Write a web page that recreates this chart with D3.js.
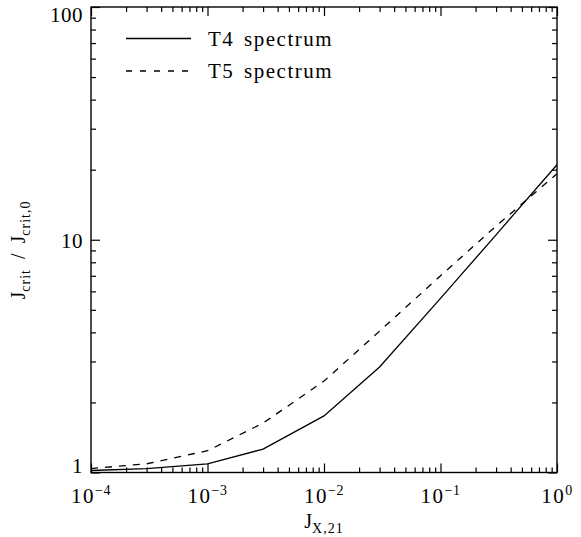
<!DOCTYPE html>
<html>
<head>
<meta charset="utf-8">
<script src="https://cdn.jsdelivr.net/npm/d3@7"></script>
<style>
  body { margin: 0; background: #fff; }
  svg text { font-family: "Liberation Serif", "DejaVu Serif", "Noto Serif", serif; }
</style>
</head>
<body>
<svg id="chart" width="581" height="537"></svg>
<script>
// values
const jx = [1e-4, 3e-4, 1e-3, 3e-3, 1e-2, 3e-2, 1e-1, 3e-1, 1];
const jcritT4 = [1.02, 1.04, 1.09, 1.26, 1.75, 2.84, 5.6, 10.5, 21.0];
const jcritT5 = [1.04, 1.09, 1.24, 1.63, 2.47, 4.05, 7.0, 11.45, 19.2];
const seriesNames = ["T4 spectrum", "T5 spectrum"];
const xExponents = [-4, -3, -2, -1, 0];
const yTickValues = [1, 10, 100];

const plotLeft = 91, plotRight = 557, plotTop = 7, plotBottom = 472.5;
const majorLen = 9, minorLen = 5;
const serif = "Liberation Serif, DejaVu Serif, serif";

const svg = d3.select("#chart").attr("font-family", serif);

const x = d3.scaleLog().domain([1e-4, 1]).range([plotLeft, plotRight]);
const y = d3.scaleLog().domain([1, 100]).range([plotBottom, plotTop]);

const isPow10 = v => Math.abs(Math.log10(v) - Math.round(Math.log10(v))) < 1e-9;
const xMinor = x.ticks().filter(v => !isPow10(v));
const yMinor = y.ticks().filter(v => !isPow10(v));
const xMajor = xExponents.map(e => Math.pow(10, e));

function tickAxis(axisFn, scale, values, len, translate) {
    svg.append("g")
        .attr("transform", translate)
        .call(axisFn(scale).tickValues(values).tickSize(-len).tickSizeOuter(0).tickFormat(""))
        .call(g => g.select(".domain").remove())
        .call(g => g.selectAll(".tick line").attr("stroke", "#000").attr("stroke-width", 1.2));
}

// ticks on all four sides, pointing in
tickAxis(d3.axisBottom, x, xMinor, minorLen, `translate(0,${plotBottom})`);
tickAxis(d3.axisBottom, x, xMajor, majorLen, `translate(0,${plotBottom})`);
tickAxis(d3.axisTop, x, xMinor, minorLen, `translate(0,${plotTop})`);
tickAxis(d3.axisTop, x, xMajor, majorLen, `translate(0,${plotTop})`);
tickAxis(d3.axisLeft, y, yMinor, minorLen, `translate(${plotLeft},0)`);
tickAxis(d3.axisLeft, y, yTickValues, majorLen, `translate(${plotLeft},0)`);
tickAxis(d3.axisRight, y, yMinor, minorLen, `translate(${plotRight},0)`);
tickAxis(d3.axisRight, y, yTickValues, majorLen, `translate(${plotRight},0)`);

svg.append("rect")
    .attr("x", plotLeft).attr("y", plotTop)
    .attr("width", plotRight - plotLeft).attr("height", plotBottom - plotTop)
    .attr("fill", "none").attr("stroke", "#000").attr("stroke-width", 1.4);

// x tick labels 10^n
const xl = svg.append("g").selectAll("text")
    .data(xExponents)
    .join("text")
    .attr("x", d => x(Math.pow(10, d)))
    .attr("y", plotBottom + 30)
    .attr("text-anchor", "middle")
    .attr("font-family", serif)
    .attr("font-size", 21)
    .attr("letter-spacing", 1.5);
xl.append("tspan").text("10");
xl.append("tspan").attr("dy", -8).attr("font-size", 14).attr("letter-spacing", 0.5)
    .text(d => d < 0 ? "\u2212" + (-d) : String(d));

// y tick labels, kept inside the frame at the ends
svg.append("g").selectAll("text")
    .data(yTickValues)
    .join("text")
    .attr("x", plotLeft - 8)
    .attr("y", d => Math.max(plotTop + 15, Math.min(plotBottom + 0.5, y(d) + 8)))
    .attr("text-anchor", "end")
    .attr("font-family", serif)
    .attr("font-size", 21)
    .attr("letter-spacing", 0.5)
    .text(d => d);

// data lines
const line = d3.line().x(d => x(d[0])).y(d => y(d[1]));
svg.append("path")
    .datum(d3.zip(jx, jcritT4))
    .attr("d", line)
    .attr("fill", "none").attr("stroke", "#000").attr("stroke-width", 1.3);
svg.append("path")
    .datum(d3.zip(jx, jcritT5))
    .attr("d", line)
    .attr("fill", "none").attr("stroke", "#000").attr("stroke-width", 1.3)
    .attr("stroke-dasharray", "7,7");

// legend
const legendY = [38.5, 71];
const dashes = [null, "6,8"];
seriesNames.forEach((name, i) => {
    svg.append("line")
        .attr("x1", 126).attr("x2", 191)
        .attr("y1", legendY[i]).attr("y2", legendY[i])
        .attr("stroke", "#000").attr("stroke-width", 1.3)
        .attr("stroke-dasharray", dashes[i]);
    svg.append("text")
        .attr("x", 208).attr("y", legendY[i] + 7)
        .attr("font-family", serif)
        .attr("font-size", 21)
        .attr("letter-spacing", 1.5)
        .attr("word-spacing", 3)
        .text(name);
});

// axis titles
const xt = svg.append("text")
    .attr("x", (plotLeft + plotRight) / 2).attr("y", 528)
    .attr("text-anchor", "middle")
    .attr("font-family", serif)
    .attr("font-size", 20);
xt.append("tspan").text("J");
xt.append("tspan").attr("dy", 5).attr("font-size", 14).attr("letter-spacing", 1).text("X,21");

const yt = svg.append("text")
    .attr("transform", "translate(25,250) rotate(-90)")
    .attr("text-anchor", "middle")
    .attr("font-family", serif)
    .attr("font-size", 20);
yt.append("tspan").text("J");
yt.append("tspan").attr("dy", 5).attr("font-size", 14).attr("letter-spacing", 1).text("crit");
yt.append("tspan").attr("dy", -5).text("\u00a0\u00a0/\u00a0\u00a0");
yt.append("tspan").text("J");
yt.append("tspan").attr("dy", 5).attr("font-size", 14).attr("letter-spacing", 1).text("crit,0");
</script>
</body>
</html>
